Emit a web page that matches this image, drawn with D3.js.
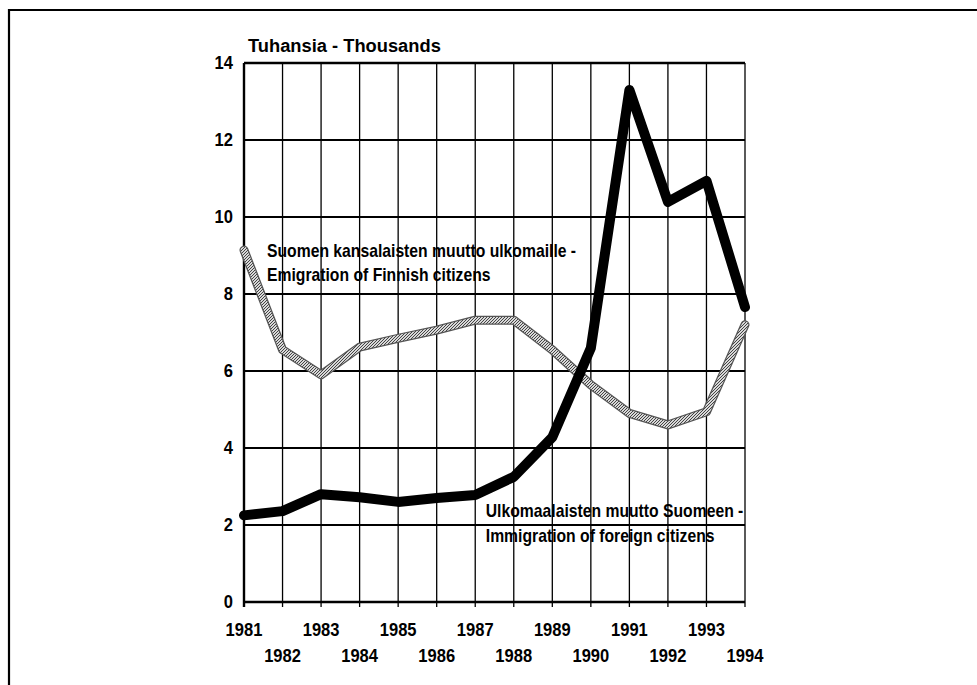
<!DOCTYPE html>
<html>
<head>
<meta charset="utf-8">
<script src="https://cdn.jsdelivr.net/npm/d3@7/dist/d3.min.js"></script>
<style>
  html, body { margin: 0; padding: 0; background: #fff; }
  svg { display: block; }
  text { font-family: "Liberation Sans", Arial, sans-serif; font-weight: bold; fill: #000; }
</style>
</head>
<body>
<script>
// ---- data ----
const years = [1981,1982,1983,1984,1985,1986,1987,1988,1989,1990,1991,1992,1993,1994];
const immigration = [2.25,2.36,2.8,2.72,2.6,2.7,2.78,3.25,4.28,6.6,13.3,10.39,10.94,7.66];
const emigration  = [9.14,6.55,5.9,6.62,6.85,7.06,7.32,7.32,6.55,5.64,4.9,4.6,4.94,7.2];
const yTicks = [0,2,4,6,8,10,12,14];
const titleText = "Tuhansia - Thousands";
const emigLabel = ["Suomen kansalaisten muutto ulkomaille -", "Emigration of Finnish citizens"];
const immLabel  = ["Ulkomaalaisten muutto Suomeen -", "Immigration of foreign citizens"];

const W = 977, H = 685;
const m = {left: 244, right: 745, top: 63, bottom: 602};

const svg = d3.select("body").append("svg").attr("width", W).attr("height", H);

// condensed text helper (horizontal squeeze)
function ctext(parent, tx, ty, str, size, sx, anchor, dy) {
  const g = parent.append("g").attr("transform", `translate(${tx},${ty}) scale(${sx},1)`);
  const t = g.append("text").attr("x", 0).attr("y", 0)
    .attr("font-size", size).attr("text-anchor", anchor || "start").text(str);
  if (dy) t.attr("dy", dy);
  return t;
}

// frame
svg.append("path").attr("d", `M9,${H} L9,10 L${W},10`)
  .attr("fill", "none").attr("stroke", "#000").attr("stroke-width", 2.2);

const x = d3.scaleLinear().domain([1981, 1994]).range([m.left, m.right]);
const y = d3.scaleLinear().domain([0, 14]).range([m.bottom, m.top]);

// hatch pattern for grey line
const defs = svg.append("defs");
const pat = defs.append("pattern").attr("id", "hatch").attr("patternUnits", "userSpaceOnUse")
  .attr("width", 3).attr("height", 3);
pat.append("rect").attr("width", 3).attr("height", 3).attr("fill", "#d8d8d8");
pat.append("path").attr("d", "M0,3 L3,0 M-1,1 L1,-1 M2,4 L4,2").attr("stroke", "#444").attr("stroke-width", 1);

// vertical grid
svg.append("g").selectAll("line").data(years).join("line")
  .attr("x1", d => x(d)).attr("x2", d => x(d))
  .attr("y1", m.top).attr("y2", m.bottom + 5)
  .attr("stroke", "#000")
  .attr("stroke-width", d => d === 1981 ? 2.4 : 1.3);

// horizontal grid
svg.append("g").selectAll("line").data(yTicks).join("line")
  .attr("x1", m.left).attr("x2", m.right)
  .attr("y1", d => y(d)).attr("y2", d => y(d))
  .attr("stroke", "#000")
  .attr("stroke-width", d => (d === 0 || d === 14) ? 2.4 : 1.8);

// y axis labels
const yl = svg.append("g");
yTicks.forEach(d => ctext(yl, m.left - 11, y(d), String(d), 18, 0.92, "end", "0.36em"));

// x axis labels (two rows)
const xl = svg.append("g");
years.forEach((d, i) => ctext(xl, x(d), i % 2 === 0 ? 636 : 662, String(d), 18, 0.92, "middle"));

// title
ctext(svg, m.left + 4, 52, titleText, 18.5, 0.99, "start");

const line = d3.line().x((d, i) => x(years[i])).y(d => y(d));

// emigration (grey hatched)
svg.append("path").datum(emigration).attr("d", line)
  .attr("fill", "none").attr("stroke", "#555").attr("stroke-width", 9)
  .attr("stroke-linejoin", "round").attr("stroke-linecap", "round");
svg.append("path").datum(emigration).attr("d", line)
  .attr("fill", "none").attr("stroke", "url(#hatch)").attr("stroke-width", 6.5)
  .attr("stroke-linejoin", "round").attr("stroke-linecap", "round");

// immigration (black)
svg.append("path").datum(immigration).attr("d", line)
  .attr("fill", "none").attr("stroke", "#000").attr("stroke-width", 10)
  .attr("stroke-linejoin", "round").attr("stroke-linecap", "round");

// series labels
const lg = svg.append("g");
emigLabel.forEach((s, i) => ctext(lg, x(1981) + 23, 257 + i * 24, s, 18.5, 0.85, "start"));
immLabel.forEach((s, i) => ctext(lg, x(1988) - 28, 517 + i * 25, s, 18.5, 0.85, "start"));
</script>
</body>
</html>
